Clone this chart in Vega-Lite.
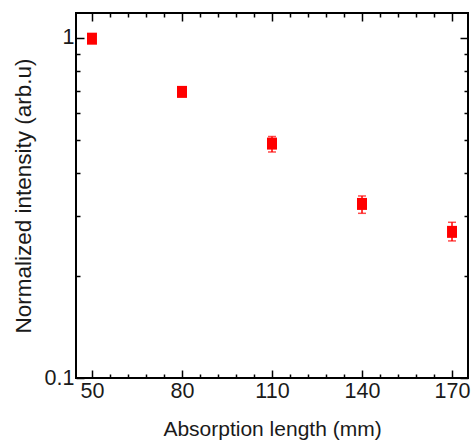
{
  "$schema": "https://vega.github.io/schema/vega-lite/v6.json",
  "width": 392,
  "height": 365,
  "autosize": {"type": "none"},
  "padding": {"left": 76, "top": 13, "right": 4, "bottom": 68},
  "background": "white",
  "config": {
    "view": {"stroke": "black", "strokeWidth": 2},
    "axis": {
      "domain": false,
      "grid": false,
      "tickColor": "black",
      "tickWidth": 1.5,
      "labelFont": "Liberation Sans",
      "labelFontSize": 21.5,
      "labelColor": "#1a1a1a",
      "titleFont": "Liberation Sans",
      "titleFontSize": 21,
      "titleFontWeight": "normal",
      "titleColor": "#1a1a1a"
    }
  },
  "data": {
    "values": [
      {"x": 50, "y": 0.995, "lo": 0.975, "hi": 1.015},
      {"x": 80, "y": 0.694, "lo": 0.676, "hi": 0.712},
      {"x": 110, "y": 0.489, "lo": 0.462, "hi": 0.513},
      {"x": 140, "y": 0.325, "lo": 0.305, "hi": 0.343},
      {"x": 170, "y": 0.269, "lo": 0.253, "hi": 0.287}
    ]
  },
  "resolve": {"axis": {"x": "independent", "y": "independent"}},
  "layer": [
    {
      "mark": {"type": "rule", "color": "#ff0000", "strokeWidth": 1.5},
      "encoding": {
        "x": {"field": "x", "type": "quantitative",
          "scale": {"domain": [44.67, 175.33], "nice": false, "zero": false},
          "axis": {"orient": "bottom", "values": [56, 62, 68, 74, 86, 92, 98, 104, 116, 122, 128, 134, 146, 152, 158, 164], "labels": false, "title": null, "tickSize": -4}},
        "y": {"field": "lo", "type": "quantitative",
          "scale": {"type": "log", "domain": [0.1, 1.184], "nice": false},
          "axis": {"orient": "left", "values": [0.2, 0.3, 0.4, 0.5, 0.6, 0.7, 0.8, 0.9], "labels": false, "title": null, "tickSize": -4}},
        "y2": {"field": "hi"}
      }
    },
    {
      "mark": {"type": "tick", "color": "#ff0000", "orient": "horizontal", "size": 8, "thickness": 1.5},
      "encoding": {
        "x": {"field": "x", "type": "quantitative",
          "axis": {"orient": "top", "values": [50, 80, 110, 140, 170], "labels": false, "title": null, "tickSize": -8}},
        "y": {"field": "hi", "type": "quantitative",
          "axis": {"orient": "right", "values": [0.1, 1], "labels": false, "title": null, "tickSize": -8}}
      }
    },
    {
      "mark": {"type": "tick", "color": "#ff0000", "orient": "horizontal", "size": 8, "thickness": 1.5},
      "encoding": {
        "x": {"field": "x", "type": "quantitative",
          "axis": {"orient": "top", "values": [56, 62, 68, 74, 86, 92, 98, 104, 116, 122, 128, 134, 146, 152, 158, 164], "labels": false, "title": null, "tickSize": -4}},
        "y": {"field": "lo", "type": "quantitative",
          "axis": {"orient": "right", "values": [0.2, 0.3, 0.4, 0.5, 0.6, 0.7, 0.8, 0.9], "labels": false, "title": null, "tickSize": -4}}
      }
    },
    {
      "mark": {"type": "point", "shape": "M-0.83,-1L0.83,-1L0.83,1L-0.83,1Z", "size": 144, "filled": true, "color": "#ff0000", "opacity": 1},
      "encoding": {
        "x": {"field": "x", "type": "quantitative",
          "axis": {"orient": "bottom", "values": [50, 80, 110, 140, 170], "title": "Absorption length (mm)", "tickSize": -8, "labelPadding": 10, "titlePadding": 17}},
        "y": {"field": "y", "type": "quantitative",
          "axis": {"orient": "left", "values": [0.1, 1], "format": "~g", "title": "Normalized intensity (arb.u)", "titleFontSize": 22.5, "tickSize": -8, "labelPadding": 10, "titlePadding": 9}}
      }
    }
  ]
}
